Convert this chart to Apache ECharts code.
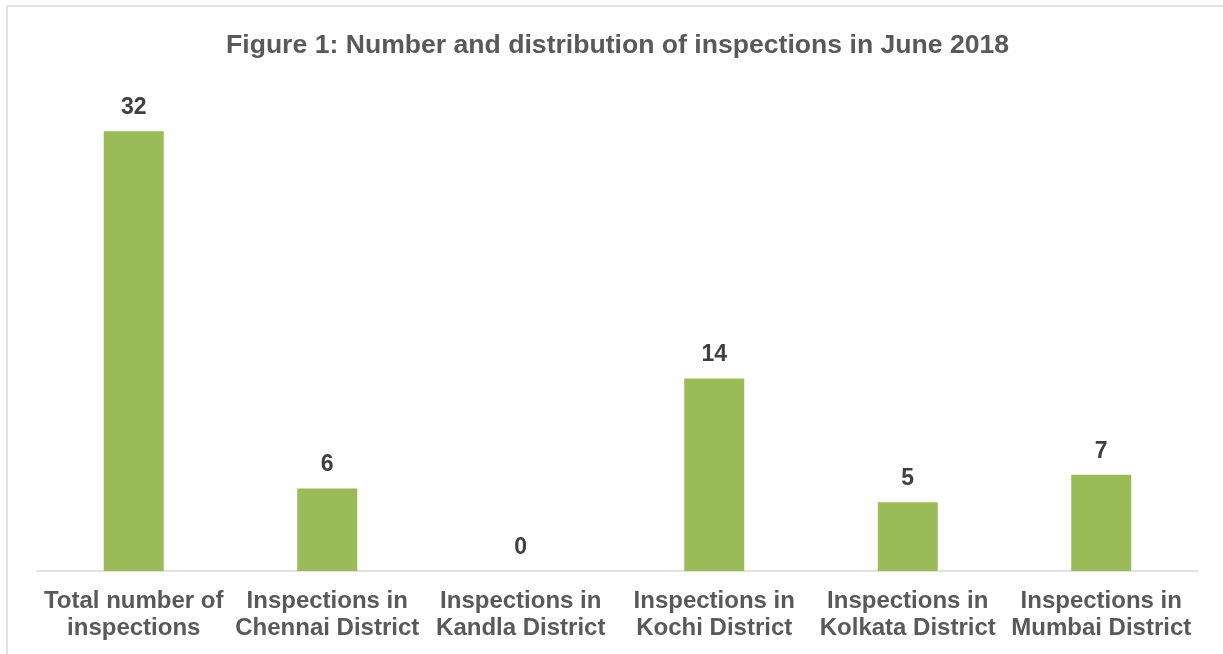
<!DOCTYPE html>
<html>
<head>
<meta charset="utf-8">
<script src="https://cdn.jsdelivr.net/npm/echarts@6/dist/echarts.min.js"></script>
<style>
html, body { margin: 0; padding: 0; background: #fff; }
#chart { width: 1223px; height: 654px; }
</style>
</head>
<body>
<div id="chart"></div>
<script>
// values
var categories = [
    'Total number of\ninspections',
    'Inspections in\nChennai District',
    'Inspections in\nKandla District',
    'Inspections in\nKochi District',
    'Inspections in\nKolkata District',
    'Inspections in\nMumbai District'
];
var inspections = [32, 6, 0, 14, 5, 7];

var chart = echarts.init(document.getElementById('chart'));
var option = {
    backgroundColor: '#fff',
    animation: false,
    title: {
        text: 'Figure 1: Number and distribution of inspections in June 2018',
        left: 221,
        top: 27,
        textStyle: {
            fontFamily: 'Liberation Sans, Arial, sans-serif',
            fontSize: 26.6,
            fontWeight: 'bold',
            color: '#595959'
        }
    },
    graphic: [{
        type: 'rect',
        shape: { x: 7, y: 6, width: 1230, height: 660 },
        style: { fill: 'none', stroke: '#d9d9d9', lineWidth: 1.5 },
        silent: true
    }],
    grid: {
        left: 37,
        right: 25,
        top: 90,
        bottom: 83
    },
    xAxis: {
        type: 'category',
        data: categories,
        axisLine: { lineStyle: { color: '#d9d9d9', width: 1.5 } },
        axisTick: { show: false },
        axisLabel: {
            interval: 0,
            margin: 17,
            lineHeight: 27,
            fontFamily: 'Liberation Sans, Arial, sans-serif',
            fontSize: 24,
            fontWeight: 'bold',
            color: '#595959'
        }
    },
    yAxis: {
        type: 'value',
        min: 0,
        max: 35,
        show: false,
        splitLine: { show: false }
    },
    series: [{
        type: 'bar',
        data: inspections,
        barWidth: 60,
        itemStyle: { color: '#9bbb59' },
        label: {
            show: true,
            position: 'top',
            distance: 12,
            fontFamily: 'Liberation Sans, Arial, sans-serif',
            fontSize: 23,
            fontWeight: 'bold',
            color: '#404040'
        }
    }]
};
chart.setOption(option);
</script>
</body>
</html>
